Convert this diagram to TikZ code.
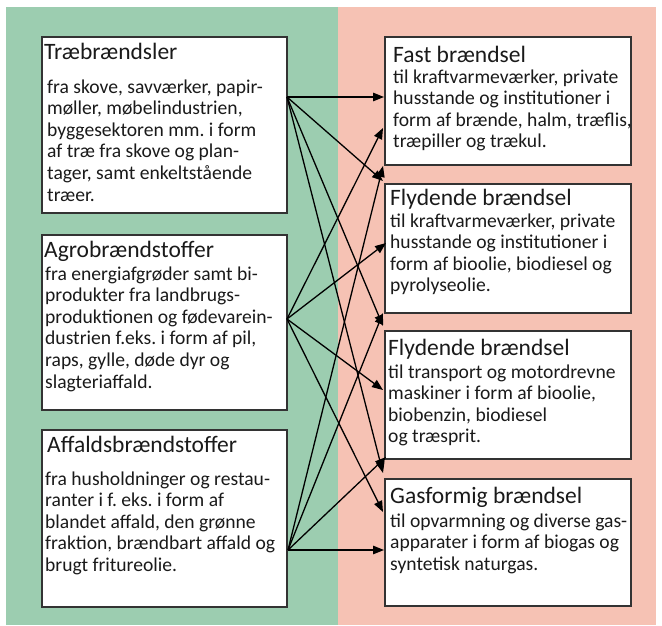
\documentclass[tikz,border=0pt]{standalone}
\usepackage{fontspec}
\setmainfont{Carlito}
\usetikzlibrary{arrows.meta}
\frenchspacing
\definecolor{bggreen}{HTML}{9CCDB0}
\definecolor{bgpink}{HTML}{F6C2B4}
\definecolor{boxline}{HTML}{333333}
\definecolor{txt}{HTML}{1A1A1A}
\newcommand\blines[1]{\begin{tabular}[t]{@{}l@{}}#1\end{tabular}}
\tikzset{
  box/.style={draw=boxline, line width=1.6pt, fill=white, inner sep=0pt, outer sep=0pt},
  ttl/.style={anchor=base west, inner sep=0pt, text=txt, font=\fontsize{23.5}{27}\selectfont},
  bdy/.style={anchor=base west, inner sep=0pt, text=txt, font=\fontsize{19.6}{21.6}\selectfont},
  arr/.style={-{Triangle[length=11pt,width=8.5pt]}, line width=1.3pt}
}
\begin{document}
\begin{tikzpicture}[x=1pt,y=-1pt]
\useasboundingbox (0,0) rectangle (662,625);
\fill[bggreen] (6,7) rectangle (338,625);
\fill[bgpink] (338,7) rectangle (656,625);

% source boxes
\node[box, minimum width=245pt, minimum height=176pt] (trae) at (164.5,125) {};
\node[box, minimum width=245pt, minimum height=175pt] (agro) at (164.5,322.5) {};
\node[box, minimum width=245pt, minimum height=177pt] (affald) at (164.5,518.5) {};
% target boxes
\node[box, minimum width=246pt, minimum height=128pt] (fast) at (508,101) {};
\node[box, minimum width=246pt, minimum height=129pt] (flyd1) at (508,248.5) {};
\node[box, minimum width=246pt, minimum height=128pt] (flyd2) at (508,395) {};
\node[box, minimum width=246pt, minimum height=127pt] (gas) at (508,542.5) {};

% texts
\node[ttl] (traeT) at (44,59) {Træbrændsler};
\node[bdy] (traeB) at (47,93) {\blines{fra skove, savværker, papir-\\møller, møbelindustrien,\\byggesektoren mm. i form\\af træ fra skove og plan-\\tager, samt enkeltstående\\træer.}};
\node[ttl] (agroT) at (44,257) {Agrobrændstoffer};
\node[bdy] (agroB) at (45,280) {\blines{fra energiafgrøder samt bi-\\produkter fra landbrugs-\\produktionen og fødevarein-\\dustrien f.eks. i form af pil,\\raps, gylle, døde dyr og\\slagteriaffald.}};
\node[ttl] (affaldT) at (47,452) {Affaldsbrændstoffer};
\node[bdy] (affaldB) at (45,485) {\blines{fra husholdninger og restau-\\ranter i f. eks. i form af\\blandet affald, den grønne\\fraktion, brændbart affald og\\brugt fritureolie.}};

\node[ttl] (fastT) at (393,62) {Fast brændsel};
\node[bdy] (fastB) at (393,83) {\blines{til kraftvarmeværker, private\\husstande og institutioner i\\form af brænde, halm, træflis,\\træpiller og trækul.}};
\node[ttl] (flyd1T) at (390,205) {Flydende brændsel};
\node[bdy] (flyd1B) at (390,227) {\blines{til kraftvarmeværker, private\\husstande og institutioner i\\form af bioolie, biodiesel og\\pyrolyseolie.}};
\node[ttl] (flyd2T) at (388,355) {Flydende brændsel};
\node[bdy] (flyd2B) at (388,378) {\blines{til transport og motordrevne\\maskiner i form af bioolie,\\biobenzin, biodiesel\\og træsprit.}};
\node[ttl] (gasT) at (390,503) {Gasformig brændsel};
\node[bdy] (gasB) at (390,527) {\blines{til opvarmning og diverse gas-\\apparater i form af biogas og\\syntetisk naturgas.}};

% connector end points
\coordinate (s1) at (287,97);
\coordinate (s2) at (287,319);
\coordinate (s3) at (288,550);
\coordinate (a1) at (384,97);
\coordinate (a2) at (383,181);
\coordinate (a3) at (383,326);
\coordinate (a4) at (383,473);
\coordinate (b1) at (383,128);
\coordinate (b2) at (386,243);
\coordinate (b3) at (383,390);
\coordinate (b4) at (383,512);
\coordinate (c1) at (383,166);
\coordinate (c2) at (383,313);
\coordinate (c3) at (386,457);
\coordinate (c4) at (384,550);

\foreach \t in {a1,a2,a3,a4} \draw[arr] (s1) -- (\t);
\foreach \t in {b1,b2,b3,b4} \draw[arr] (s2) -- (\t);
\foreach \t in {c1,c2,c3,c4} \draw[arr] (s3) -- (\t);
\end{tikzpicture}
\end{document}
